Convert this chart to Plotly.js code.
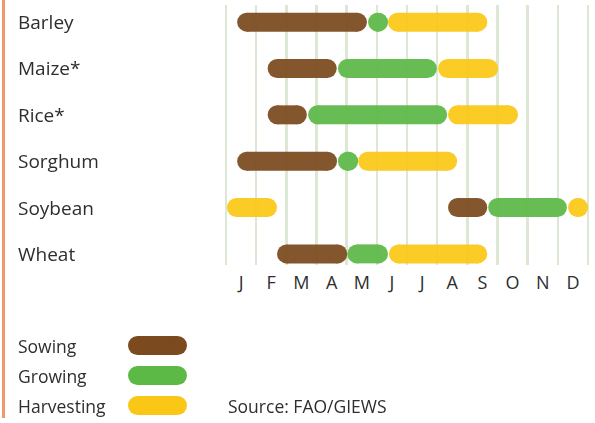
<!DOCTYPE html>
<html>
<head>
<meta charset="utf-8">
<script src="https://cdn.plot.ly/plotly-3.0.1.min.js"></script>
<style>
html, body { margin: 0; padding: 0; background: #fff; }
#chart { width: 595px; height: 423px; }
</style>
</head>
<body>
<div id="chart"></div>
<script>
// crop calendar, months counted from 0 = start of January
var crops = ['Barley', 'Maize*', 'Rice*', 'Sorghum', 'Soybean', 'Wheat'];
var months = ['J', 'F', 'M', 'A', 'M', 'J', 'J', 'A', 'S', 'O', 'N', 'D'];
var phases = ['Sowing', 'Growing', 'Harvesting'];

// [crop, start, end]
var sowing = [
  ['Barley', 0.37, 4.67], ['Maize*', 1.38, 3.67], ['Rice*', 1.38, 2.68],
  ['Sorghum', 0.37, 3.68], ['Soybean', 7.36, 8.66], ['Wheat', 1.69, 4.02]
];
var growing = [
  ['Barley', 4.71, 5.37], ['Maize*', 3.71, 6.99], ['Rice*', 2.72, 7.33],
  ['Sorghum', 3.71, 4.38], ['Soybean', 8.69, 11.3], ['Wheat', 4.02, 5.37]
];
var harvesting = [
  ['Barley', 5.37, 8.66], ['Maize*', 7.03, 9.02], ['Rice*', 7.36, 9.68],
  ['Sorghum', 4.38, 7.66], ['Soybean', 0.03, 1.69], ['Soybean', 11.34, 12.0],
  ['Wheat', 5.4, 8.66]
];
var source = 'Source: FAO/GIEWS';

var colors = ['#7b4a1e', '#5cb946', '#fbc716'];
var W = 595, H = 423;
var BAR = 19;                 // pill thickness, px
var PXM = 362 / 12;           // px per month
var R = (BAR / 2) / PXM;      // cap radius in months
var font = '"Open Sans", "DejaVu Sans", sans-serif';
var ink = '#2e2e2e';

function pills(segs, color) {
  var x = [], y = [];
  segs.forEach(function(s) {
    var a = s[1] + R, b = s[2] - R;
    if (b < a) { a = b = (s[1] + s[2]) / 2; }
    x.push(a, b, null);
    y.push(s[0], s[0], null);
  });
  return {
    type: 'scatter', mode: 'lines+markers', x: x, y: y,
    line: { color: color, width: BAR },
    marker: { color: color, size: BAR, line: { width: 0 } },
    opacity: 0.93, cliponaxis: false, showlegend: false, hoverinfo: 'skip'
  };
}

var data = [pills(sowing, colors[0]), pills(growing, colors[1]), pills(harvesting, colors[2])];

// legend swatches on a second small subplot
phases.forEach(function(p, i) {
  data.push({
    type: 'scatter', mode: 'lines+markers', x: [0, 1], y: [p, p],
    xaxis: 'x2', yaxis: 'y2',
    line: { color: colors[i], width: BAR },
    marker: { color: colors[i], size: BAR, line: { width: 0 } },
    cliponaxis: false, showlegend: false, hoverinfo: 'skip'
  });
});

var annotations = [];
crops.forEach(function(c) {
  annotations.push({ text: c, xref: 'paper', x: 15.5 / W, xanchor: 'left', yref: 'y', y: c,
    showarrow: false, font: { family: font, size: 19, color: ink } });
});
phases.forEach(function(p) {
  annotations.push({ text: p, xref: 'paper', x: 16 / W, xanchor: 'left', yref: 'y2', y: p,
    showarrow: false, font: { family: font, size: 17.5, color: ink } });
});
annotations.push({ text: source, xref: 'paper', x: 226 / W, xanchor: 'left', yref: 'y2', y: phases[2],
  showarrow: false, font: { family: font, size: 17.5, color: ink } });

var gridVals = months.map(function(m, i) { return i; }).concat([months.length]);

var layout = {
  width: W, height: H,
  margin: { l: 0, r: 0, t: 0, b: 0 },
  paper_bgcolor: '#fff', plot_bgcolor: 'rgba(0,0,0,0)',
  font: { family: font, color: ink },
  xaxis: {
    domain: [(226 - 0.1 * PXM) / W, (588 + 0.1 * PXM) / W],
    range: [-0.1, 12.1],
    tickvals: months.map(function(m, i) { return i + 0.5; }),
    ticktext: months,
    ticks: '', showgrid: false, zeroline: false, showline: false,
    ticklabelstandoff: 5,
    tickfont: { family: font, size: 18, color: ink },
    minor: { tickvals: gridVals, showgrid: true, gridcolor: '#dde8d4', gridwidth: 2.5, ticks: '' }
  },
  yaxis: {
    domain: [1 - 265 / H, 1 - 5 / H],
    type: 'category', categoryarray: crops, categoryorder: 'array',
    range: [5.24, -0.37],
    showticklabels: false, showgrid: false, zeroline: false, ticks: ''
  },
  xaxis2: {
    anchor: 'y2', domain: [137.5 / W, 177.5 / W], range: [0, 1],
    visible: false
  },
  yaxis2: {
    anchor: 'x2', domain: [1 - 420.5 / H, 1 - 330.5 / H],
    type: 'category', categoryarray: phases, categoryorder: 'array',
    range: [2.5, -0.5], visible: false
  },
  shapes: [{
    type: 'line', xref: 'paper', yref: 'paper',
    x0: 3.5 / W, x1: 3.5 / W, y0: 1 - 418 / H, y1: 1,
    line: { color: '#f2996c', width: 3 }
  }],
  annotations: annotations
};

Plotly.newPlot('chart', data, layout, { staticPlot: true, displayModeBar: false });
</script>
</body>
</html>
